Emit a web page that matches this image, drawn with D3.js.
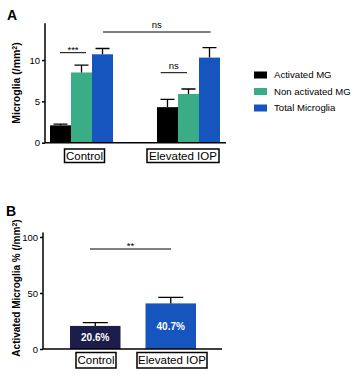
<!DOCTYPE html>
<html>
<head>
<meta charset="utf-8">
<script src="https://cdn.jsdelivr.net/npm/d3@7"></script>
<style>
  body { margin: 0; background: #fff; }
  svg { font-family: "Liberation Sans", Arial, sans-serif; }
</style>
</head>
<body>
<svg width="361" height="378"></svg>
<script>
// dados
const groups = ["Control", "Elevated IOP"];
const seriesNames = ["Activated MG", "Non activated MG", "Total Microglia"];
const seriesColors = ["#000000", "#3aad86", "#1555bd"];
const activatedMG = [2.1, 4.3];
const activatedErr = [0.15, 0.95];
const nonActivatedMG = [8.5, 5.9];
const nonActivatedErr = [0.9, 0.6];
const totalMicroglia = [10.7, 10.3];
const totalErr = [0.7, 1.2];
const ticksA = [0, 5, 10];

const pctActivated = [20.6, 40.7];
const pctErr = [2.9, 5.3];
const pctColors = ["#1c1d4b", "#1555bd"];
const ticksB = [0, 50, 100];

const svg = d3.select("svg");

// ---------- Painel A ----------
const yA = d3.scaleLinear().domain([0, 14.45]).range([142.7, 23.3]);
const xA = d3.scaleBand().domain(groups).range([50, 220]).paddingInner(0.411);
const xSub = d3.scaleBand().domain(seriesNames).range([0, xA.bandwidth()]);

const valuesA = [activatedMG, nonActivatedMG, totalMicroglia];
const errsA = [activatedErr, nonActivatedErr, totalErr];
const barsA = [];
groups.forEach((g, gi) => {
  seriesNames.forEach((s, si) => {
    barsA.push({ g, s, si, v: valuesA[si][gi], e: errsA[si][gi] });
  });
});

const gA = svg.append("g");

// barras
gA.selectAll("rect.bar")
  .data(barsA)
  .enter()
  .append("rect")
  .attr("x", d => xA(d.g) + xSub(d.s))
  .attr("y", d => yA(d.v))
  .attr("width", xSub.bandwidth())
  .attr("height", d => yA(0) - yA(d.v))
  .attr("fill", d => seriesColors[d.si]);

// barras de erro
gA.selectAll("path.err")
  .data(barsA)
  .enter()
  .append("path")
  .attr("d", d => {
    const cx = xA(d.g) + xSub(d.s) + xSub.bandwidth() / 2;
    return `M${cx},${yA(d.v)}V${yA(d.v + d.e)}M${cx - 7},${yA(d.v + d.e)}H${cx + 7}`;
  })
  .attr("stroke", "#000")
  .attr("stroke-width", 1.3)
  .attr("fill", "none");

// eixos
gA.append("g")
  .attr("transform", "translate(45,0)")
  .call(d3.axisLeft(yA).tickValues(ticksA).tickSize(3).tickPadding(2))
  .call(a => a.select(".domain").attr("d", `M-0,${yA(14.45)}V${yA(0)}`).attr("stroke-width", 1.5))
  .call(a => a.selectAll("line").attr("stroke-width", 1.5))
  .call(a => a.selectAll("text").attr("font-size", 9.5).attr("font-family", "Liberation Sans, Arial").attr("fill", "#000"));

gA.append("line")
  .attr("x1", 45).attr("x2", 226)
  .attr("y1", yA(0)).attr("y2", yA(0))
  .attr("stroke", "#000").attr("stroke-width", 1.5);

// rotulos de categoria com caixa
function boxLabel(g, cx, y, w, h, txt) {
  g.append("rect")
    .attr("x", cx - w / 2).attr("y", y)
    .attr("width", w).attr("height", h)
    .attr("fill", "#fff").attr("stroke", "#000").attr("stroke-width", 1.5);
  g.append("text")
    .attr("x", cx).attr("y", y + h / 2)
    .attr("dy", ".36em")
    .attr("text-anchor", "middle")
    .attr("font-size", 11.5)
    .text(txt);
}
boxLabel(gA, 84.5, 149, 40, 13.5, groups[0]);
boxLabel(gA, 183, 149, 72, 13.5, groups[1]);

// significancia
function sig(g, x1, x2, y, txt, ty) {
  g.append("line")
    .attr("x1", x1).attr("x2", x2).attr("y1", y).attr("y2", y)
    .attr("stroke", "#000").attr("stroke-width", 1);
  g.append("text")
    .attr("x", (x1 + x2) / 2).attr("y", y - ty)
    .attr("text-anchor", "middle")
    .attr("font-size", 9.5)
    .text(txt);
}
sig(gA, xA(groups[0]) + xSub(seriesNames[0]) + 10, xA(groups[0]) + xSub(seriesNames[1]) + 15, 52.7, "***", 0);
sig(gA, 103, 210.7, 32, "ns", 4);
sig(gA, 160.7, 187, 72.7, "ns", 4);

gA.append("text")
  .attr("x", 7).attr("y", 20)
  .attr("font-size", 14).attr("font-weight", "bold")
  .text("A");

const ylabA = gA.append("text")
  .attr("transform", "translate(20,83) rotate(-90)")
  .attr("text-anchor", "middle")
  .attr("font-size", 10.5).attr("font-weight", "bold");
ylabA.append("tspan").text("Microglia (/mm");
ylabA.append("tspan").attr("font-size", 7).attr("dy", -3.5).text("2");
ylabA.append("tspan").attr("dy", 3.5).text(")");

// legenda
const leg = gA.selectAll("g.leg")
  .data(seriesNames)
  .enter()
  .append("g")
  .attr("transform", (d, i) => `translate(254,${75 + i * 16.5})`);
leg.append("rect")
  .attr("x", 0).attr("y", -3.5).attr("width", 13).attr("height", 7)
  .attr("fill", (d, i) => seriesColors[i]);
leg.append("text")
  .attr("x", 20).attr("y", 0).attr("dy", ".35em")
  .attr("font-size", 9.6)
  .text(d => d);

// ---------- Painel B ----------
const yB = d3.scaleLinear().domain([0, 104]).range([349, 232.5]);
const xB = d3.scaleBand().domain(groups).range([70, 196]).paddingInner(0.331);

const barsB = groups.map((g, i) => ({ g, i, v: pctActivated[i], e: pctErr[i] }));
const gB = svg.append("g");

gB.selectAll("rect.bar")
  .data(barsB)
  .enter()
  .append("rect")
  .attr("x", d => xB(d.g))
  .attr("y", d => yB(d.v))
  .attr("width", xB.bandwidth())
  .attr("height", d => yB(0) - yB(d.v))
  .attr("fill", d => pctColors[d.i]);

gB.selectAll("path.err")
  .data(barsB)
  .enter()
  .append("path")
  .attr("d", d => {
    const cx = xB(d.g) + xB.bandwidth() / 2;
    return `M${cx},${yB(d.v)}V${yB(d.v + d.e)}M${cx - 12.5},${yB(d.v + d.e)}H${cx + 12.5}`;
  })
  .attr("stroke", "#000")
  .attr("stroke-width", 1.3)
  .attr("fill", "none");

gB.selectAll("text.val")
  .data(barsB)
  .enter()
  .append("text")
  .attr("x", d => xB(d.g) + xB.bandwidth() / 2)
  .attr("y", d => (yB(d.v) + yB(0)) / 2)
  .attr("dy", ".36em")
  .attr("text-anchor", "middle")
  .attr("font-size", 10).attr("font-weight", "bold")
  .attr("fill", "#fff")
  .text(d => d.v.toFixed(1) + "%");

gB.append("g")
  .attr("transform", "translate(43,0)")
  .call(d3.axisLeft(yB).tickValues(ticksB).tickSize(3).tickPadding(2))
  .call(a => a.select(".domain").attr("d", `M-0,${yB(104)}V${yB(0)}`).attr("stroke-width", 1.5))
  .call(a => a.selectAll("line").attr("stroke-width", 1.5))
  .call(a => a.selectAll("text").attr("font-size", 9.5).attr("font-family", "Liberation Sans, Arial").attr("fill", "#000"));

gB.append("line")
  .attr("x1", 43).attr("x2", 222)
  .attr("y1", yB(0)).attr("y2", yB(0))
  .attr("stroke", "#000").attr("stroke-width", 1.5);

boxLabel(gB, 96, 352.5, 40, 15.5, groups[0]);
boxLabel(gB, 172, 352.5, 70, 15.5, groups[1]);

sig(gB, 90, 171, 249, "**", 0);

gB.append("text")
  .attr("x", 6).attr("y", 216)
  .attr("font-size", 14).attr("font-weight", "bold")
  .text("B");

const ylabB = gB.append("text")
  .attr("transform", "translate(20,288) rotate(-90)")
  .attr("text-anchor", "middle")
  .attr("font-size", 10).attr("font-weight", "bold");
ylabB.append("tspan").text("Activated Microglia % (/mm");
ylabB.append("tspan").attr("font-size", 7).attr("dy", -3.5).text("2");
ylabB.append("tspan").attr("dy", 3.5).text(")");
</script>
</body>
</html>
